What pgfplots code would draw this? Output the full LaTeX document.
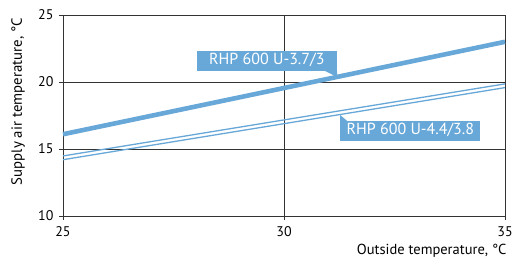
\documentclass[border=0pt]{standalone}
\usepackage{pgfplots}
\pgfplotsset{compat=1.18}
\usepackage{fontspec}
\setmainfont{PT Sans}
\definecolor{lineblue}{RGB}{104,168,216}
\begin{document}
\begin{tikzpicture}
\path[use as bounding box] (-63pt,-48pt) rectangle (452pt,216pt);
\begin{axis}[
  at={(0,0)}, anchor=south west,
  scale only axis, width=442pt, height=201pt,
  xmin=25, xmax=35, ymin=10, ymax=25,
  xtick={25,30,35}, ytick={10,15,20,25},
  grid=major,
  major grid style={black!80, line width=0.7pt},
  axis line style={black!80, line width=0.8pt},
  tick align=outside, tick pos=left,
  major tick length=4pt,
  tick style={black!80, line width=0.7pt},
  /pgf/number format/assume math mode=true,
  ticklabel style={font=\fontsize{14}{16}\selectfont},
  xticklabel style={yshift=-3pt},
  yticklabel style={xshift=-2pt},
  clip=false,
]
\addplot[lineblue, line width=4.6pt] coordinates {(25,16.1) (35,23.0)};
\addplot[lineblue, line width=1.3pt] coordinates {(25,14.48) (35,19.86)};
\addplot[lineblue, line width=1.3pt] coordinates {(25,14.2) (35,19.58)};
\fill[lineblue] (axis cs:30.93,20.82) -- (axis cs:31.20,20.82) -- (axis cs:31.20,20.37) -- cycle;
\fill[lineblue] (axis cs:31.27,17.09) -- (axis cs:31.43,17.09) -- (axis cs:31.27,17.54) -- cycle;
\node[fill=lineblue, text=white, anchor=south east, minimum width=140pt, align=center,
  inner xsep=0pt, inner ysep=2.5pt, text height=11.5pt, text depth=3.5pt,
  font=\fontsize{16}{18}\selectfont] at (axis cs:31.20,20.82) {RHP 600 U-3.7/3};
\node[fill=lineblue, text=white, anchor=north west, minimum width=140pt, align=center,
  inner xsep=0pt, inner ysep=2.5pt, text height=11.5pt, text depth=3.5pt,
  font=\fontsize{16}{18}\selectfont] at (axis cs:31.27,17.11) {RHP 600 U-4.4/3.8};
\end{axis}
\node[anchor=base east, font=\fontsize{14.5}{16}\selectfont] at (447pt,-39pt) {Outside temperature, °C};
\node[rotate=90, anchor=base, font=\fontsize{14.8}{16}\selectfont] at (-41pt,114.5pt) {Supply air temperature, °C};
\end{tikzpicture}
\end{document}
